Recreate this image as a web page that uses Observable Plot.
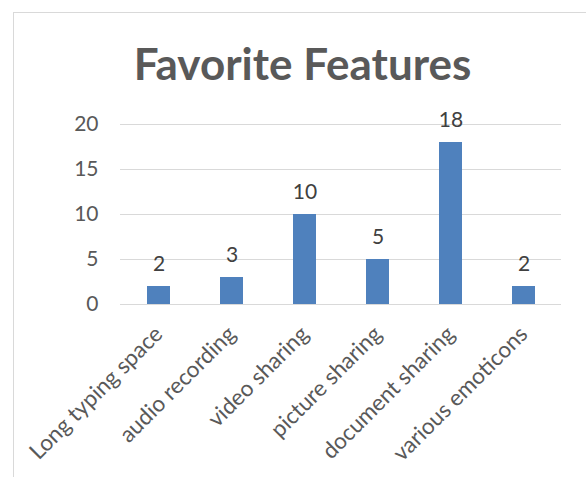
<!DOCTYPE html>
<html>
<head>
<meta charset="utf-8">
<script src="https://cdn.jsdelivr.net/npm/d3@7"></script>
<script src="https://cdn.jsdelivr.net/npm/@observablehq/plot@0.6"></script>
<style>
  html, body { margin: 0; padding: 0; background: #fff; overflow: hidden; }
  #wrap { position: relative; width: 586px; height: 477px; overflow: hidden; }
  #frame { position: absolute; left: 13px; top: 12px; width: 600px; height: 500px; border: 1px solid #d9d9d9; box-sizing: border-box; }
  #title { position: absolute; left: 0; top: 41px; width: 605px; text-align: center; font-family: Lato, sans-serif; font-weight: bold; font-size: 44px; line-height: 1; color: #595959; margin: 0; }
  #chart { position: absolute; left: 0; top: 0; }
</style>
</head>
<body>
<div id="wrap">
  <div id="frame"></div>
  <div id="title">Favorite Features</div>
  <div id="chart"></div>
</div>
<script>
const categories = ["Long typing space", "audio recording", "video sharing", "picture sharing", "document sharing", "various emoticons"];
const counts = [2, 3, 10, 5, 18, 2];
const yTicks = [0, 5, 10, 15, 20];

const data = categories.map((c, i) => ({feature: c, count: counts[i]}));

const chart = Plot.plot({
  width: 586,
  height: 477,
  marginLeft: 120,
  marginRight: 25,
  marginTop: 124,
  marginBottom: 173,
  style: {fontFamily: "Lato, sans-serif", fontSize: "21px", color: "#595959", background: "transparent"},
  x: {domain: categories, paddingInner: 0.687, paddingOuter: 0.3435, axis: null},
  y: {domain: [0, 20], ticks: yTicks},
  marks: [
    Plot.gridY(yTicks, {stroke: "#d9d9d9", strokeOpacity: 1, strokeWidth: 1}),
    Plot.axisY(yTicks, {tickSize: 0, tickPadding: 22, label: null, fill: "#595959", fontSize: 21}),
    Plot.barY(data, {x: "feature", y: "count", fill: "#4f81bd"}),
    Plot.text(data, {x: "feature", y: "count", text: d => String(d.count), lineAnchor: "bottom", dy: -16, fill: "#404040", fontSize: 21}),
    Plot.text(data, {x: "feature", frameAnchor: "bottom", text: "feature", rotate: -45, textAnchor: "end", lineAnchor: "bottom", dx: 5, dy: 31, fill: "#595959", fontSize: 22.5})
  ]
});
document.getElementById("chart").appendChild(chart);
</script>
</body>
</html>
